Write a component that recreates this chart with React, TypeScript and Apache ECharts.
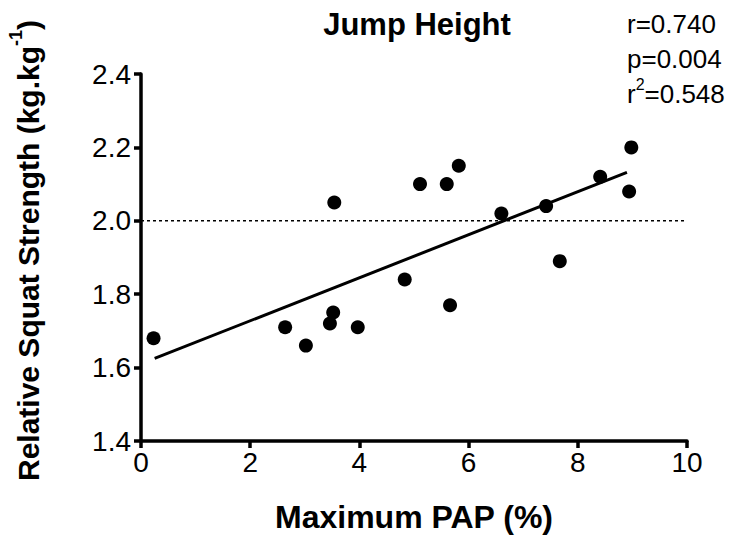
import React, { useEffect, useRef } from "react";
import * as echarts from "echarts";

const papX = [0.23, 2.64, 3.02, 3.46, 3.52, 3.54, 3.97, 4.83, 5.11, 5.6, 5.82, 5.66, 6.6, 7.42, 7.67, 8.41, 8.94, 8.98];
const squatY = [1.68, 1.71, 1.66, 1.72, 1.75, 2.05, 1.71, 1.84, 2.1, 2.1, 2.15, 1.77, 2.02, 2.04, 1.89, 2.12, 2.08, 2.2];
const fitX = [0.25, 8.9];
const fitY = [1.625, 2.132];
const refX = [0, 10];
const refY = [2.0, 2.0];
const statLines = ["r=0.740", "p=0.004", "0.548"];

const FONT = "'Liberation Sans', Arial, Helvetica, sans-serif";

export default function App() {
  const ref = useRef<HTMLDivElement>(null);
  useEffect(() => {
    if (!ref.current) return;
    const chart = echarts.init(ref.current, null, { renderer: "svg" });
    const axisLine = { lineStyle: { color: "#000", width: 3.5 } };
    chart.setOption({
      animation: false,
      backgroundColor: "#fff",
      textStyle: { fontFamily: FONT },
      grid: { left: 141, right: 47, top: 74, bottom: 96, containLabel: false, outerBoundsMode: "none" },
      xAxis: {
        type: "value",
        min: 0,
        max: 10,
        interval: 2,
        axisLine: { show: true, onZero: false, ...axisLine },
        axisTick: { show: true, length: 7, lineStyle: { color: "#000", width: 3.5 } },
        splitLine: { show: false },
        axisLabel: { color: "#000", fontSize: 28, fontFamily: FONT, margin: 7 },
        name: "Maximum PAP (%)",
        nameLocation: "middle",
        nameGap: 60,
        nameTextStyle: { color: "#000", fontSize: 32, fontWeight: "bold", fontFamily: FONT },
      },
      yAxis: {
        type: "value",
        min: 1.4,
        max: 2.4,
        interval: 0.2,
        axisLine: { show: true, onZero: false, ...axisLine },
        axisTick: { show: true, length: 7, lineStyle: { color: "#000", width: 3.5 } },
        splitLine: { show: false },
        axisLabel: {
          color: "#000",
          fontSize: 28,
          fontFamily: FONT,
          margin: 10,
          formatter: (v: number) => v.toFixed(1),
        },
        name: "{b|Relative Squat Strength (kg.kg}{sup|-1}{b|)}",
        nameLocation: "middle",
        nameGap: 98,
        nameRotate: 90,
        nameTextStyle: {
          padding: [0, 0, 0, 14],
          rich: {
            b: { color: "#000", fontSize: 30, fontWeight: "bold", fontFamily: FONT, lineHeight: 36, verticalAlign: "bottom" },
            sup: { color: "#000", fontSize: 18, fontWeight: "bold", fontFamily: FONT, lineHeight: 36, verticalAlign: "top" },
          },
        },
      },
      graphic: [
        {
          type: "text",
          x: 417,
          y: 24,
          style: {
            text: "Jump Height",
            fill: "#000",
            font: `bold 31px ${FONT}`,
            align: "center",
            verticalAlign: "middle",
          },
        },
        {
          type: "text",
          x: 627,
          y: 6,
          style: {
            text: `${statLines[0]}\n${statLines[1]}\n{n|r}{s|2}{n|=${statLines[2]}}`,
            fill: "#000",
            font: `26px ${FONT}`,
            lineHeight: 35,
            align: "left",
            verticalAlign: "top",
            rich: {
              n: { fontSize: 26, fontFamily: FONT, lineHeight: 35, fill: "#000" },
              s: { fontSize: 16, fontFamily: FONT, lineHeight: 35, verticalAlign: "top", fill: "#000" },
            },
          },
        },
      ],
      series: [
        {
          type: "line",
          data: refX.map((x, i) => [x, refY[i]]),
          symbol: "none",
          lineStyle: { color: "#000", width: 1.5, type: [3, 3] },
          silent: true,
          z: 1,
        },
        {
          type: "line",
          data: fitX.map((x, i) => [x, fitY[i]]),
          symbol: "none",
          lineStyle: { color: "#000", width: 3 },
          silent: true,
          z: 2,
        },
        {
          type: "scatter",
          data: papX.map((x, i) => [x, squatY[i]]),
          symbol: "circle",
          symbolSize: 14,
          itemStyle: { color: "#000", opacity: 1 },
          z: 3,
        },
      ],
    });
    return () => chart.dispose();
  }, []);
  return <div ref={ref} style={{ width: 734, height: 537, position: "absolute", left: 0, top: 0 }} />;
}
